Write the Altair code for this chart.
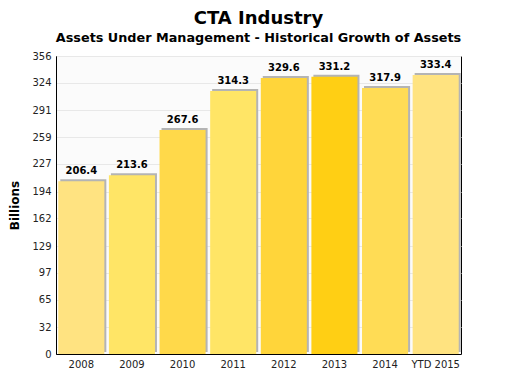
import altair as alt
import pandas as pd

years = ["2008", "2009", "2010", "2011", "2012", "2013", "2014", "YTD 2015"]
assets = [206.4, 213.6, 267.6, 314.3, 329.6, 331.2, 317.9, 333.4]
colors = ["#FFE381", "#FFE566", "#FFD94A", "#FFE566", "#FFD53A", "#FFCF14", "#FFDC55", "#FFE380"]
y_ticks = [0, 32, 65, 97, 129, 162, 194, 227, 259, 291, 324, 356]

df = pd.DataFrame({"year": years, "value": assets, "color": colors,
                   "label": [f"{v:.1f}" for v in assets]})

FONT = "DejaVu Sans"

x = alt.X("year:N", sort=years, title=None,
          scale=alt.Scale(paddingInner=0.09, paddingOuter=0.045),
          axis=alt.Axis(labelAngle=0, labelFont=FONT, labelFontSize=10, labelColor="#222",
                        domainColor="#000", ticks=False, labelPadding=5))
y = alt.Y("value:Q", title="Billions",
          scale=alt.Scale(domain=[0, 356], nice=False),
          axis=alt.Axis(values=y_ticks, labelFont=FONT, labelFontSize=10, labelColor="#222",
                        domainColor="#000", ticks=False, labelPadding=5,
                        gridColor="#e8e8e8", titleFont=FONT, titleFontSize=12,
                        titleFontWeight="bold", titleColor="#000", titlePadding=10))

base = alt.Chart(df)

shadow = base.mark_bar(color="#b4b4b4", xOffset=2, yOffset=-2).encode(x=x, y=y)
bars = base.mark_bar().encode(x=x, y=y, color=alt.Color("color:N", scale=None))
labels = base.mark_text(baseline="bottom", dy=-5, font=FONT, fontSize=10,
                        fontWeight="bold", color="#000").encode(x=x, y=y, text="label:N")

chart = alt.layer(shadow, bars, labels).properties(
    width=405, height=298,
    autosize=alt.AutoSizeParams(type="none"),
    padding={"left": 48, "top": 48, "right": 44, "bottom": 18},
    title=alt.TitleParams(text="CTA Industry",
                          subtitle="Assets Under Management - Historical Growth of Assets",
                          font=FONT, fontSize=18, fontWeight="bold", color="#000",
                          subtitleFont=FONT, subtitleFontSize=12.8, subtitleFontWeight="bold",
                          subtitleColor="#000", subtitlePadding=4, anchor="middle",
                          frame="group", offset=6),
).configure_view(stroke="#000", strokeWidth=1, fill="#fbfbfb")

chart.save("out.html", embed_options={"renderer": "svg", "actions": False})
